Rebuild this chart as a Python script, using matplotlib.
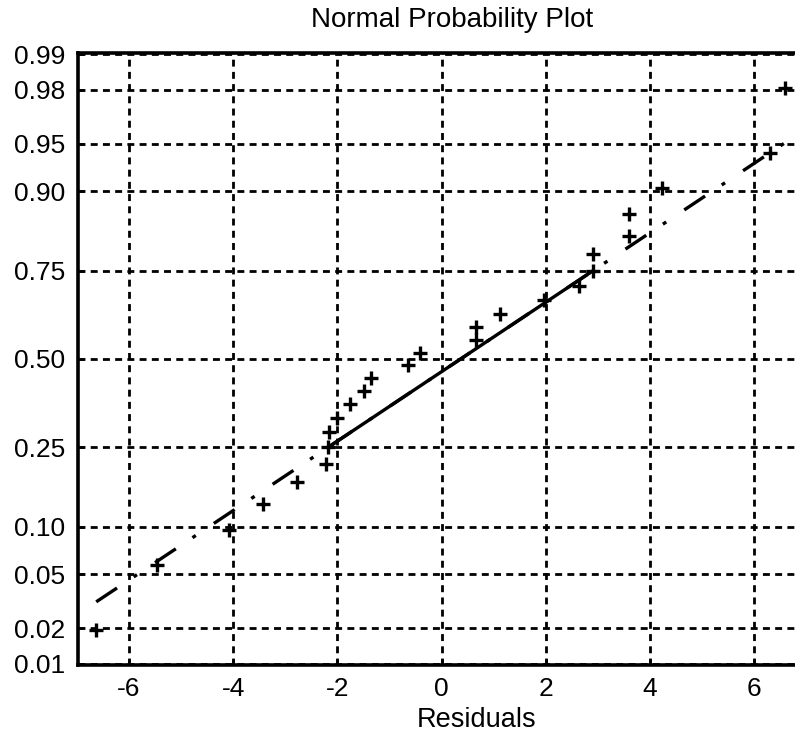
import matplotlib
matplotlib.use('Agg')
import matplotlib.pyplot as plt
import numpy as np
from statistics import NormalDist

# sorted residuals
residuals = [-6.63, -5.47, -4.09, -3.42, -2.78, -2.22, -2.18, -2.17, -2.00, -1.76,
             -1.49, -1.36, -0.65, -0.41, 0.66, 0.66, 1.12, 1.97, 2.63, 2.91,
             2.91, 3.60, 3.60, 4.23, 6.31, 6.59]
prob_ticks = [0.01, 0.02, 0.05, 0.10, 0.25, 0.50, 0.75, 0.90, 0.95, 0.98, 0.99]
prob_labels = ['0.01', '0.02', '0.05', '0.10', '0.25', '0.50', '0.75', '0.90', '0.95', '0.98', '0.99']
x_ticks = [-6, -4, -2, 0, 2, 4, 6]

plt.rcParams['font.family'] = ['Liberation Sans', 'DejaVu Sans']
nd = NormalDist()

x = np.sort(np.array(residuals))
n = len(x)
p = (np.arange(1, n + 1) - 0.5) / n
z = np.array([nd.inv_cdf(v) for v in p])

# quartile reference line (normplot style)
q1 = np.interp(0.25, p, x)
q3 = np.interp(0.75, p, x)
z1, z3 = nd.inv_cdf(0.25), nd.inv_cdf(0.75)


def line_z(xv):
    return z1 + (np.asarray(xv) - q1) * (z3 - z1) / (q3 - q1)


fig = plt.figure(figsize=(7.95, 7.34), dpi=100)
ax = fig.add_axes([78 / 795, 1 - 665 / 734, 748 / 795, 612 / 734])

grid_style = dict(color='black', linewidth=2.0, linestyle=(0, (2.5, 1.9)))
for t in x_ticks:
    ax.axvline(t, zorder=1, **grid_style)
for t in prob_ticks:
    ax.axhline(nd.inv_cdf(t), zorder=1, **grid_style)

xe = np.array([x.min(), x.max()])
ax.plot(xe, line_z(xe), color='black', linewidth=2.4, linestyle=(0, (7.5, 6, 1.2, 6.5)), zorder=2)
xs = np.array([q1, q3])
ax.plot(xs, line_z(xs), color='black', linewidth=2.4, solid_capstyle='butt', zorder=3)
ax.plot(x, z, linestyle='none', marker='+', color='black', markersize=10.5, markeredgewidth=2.4, zorder=4)

zlim = 2.336
ax.set_ylim(-zlim, zlim)
ax.set_xlim(-6.98, 7.38)
ax.set_yticks([nd.inv_cdf(t) for t in prob_ticks])
ax.set_yticklabels(prob_labels)
ax.set_xticks(x_ticks)
ax.set_xticklabels([str(t) for t in x_ticks])
ax.tick_params(direction='in', length=4, width=1.8, labelsize=19, pad=9, colors='black')
for s in ax.spines.values():
    s.set_linewidth(2.6)

fig.text(452 / 795, 1 - 20 / 734, 'Normal Probability Plot', ha='center', va='center', fontsize=20)
ax.set_xlabel('Residuals', fontsize=19.5)
ax.xaxis.set_label_coords((476.7 - 78) / 748, -0.068)

fig.savefig('out.png', dpi=100)
